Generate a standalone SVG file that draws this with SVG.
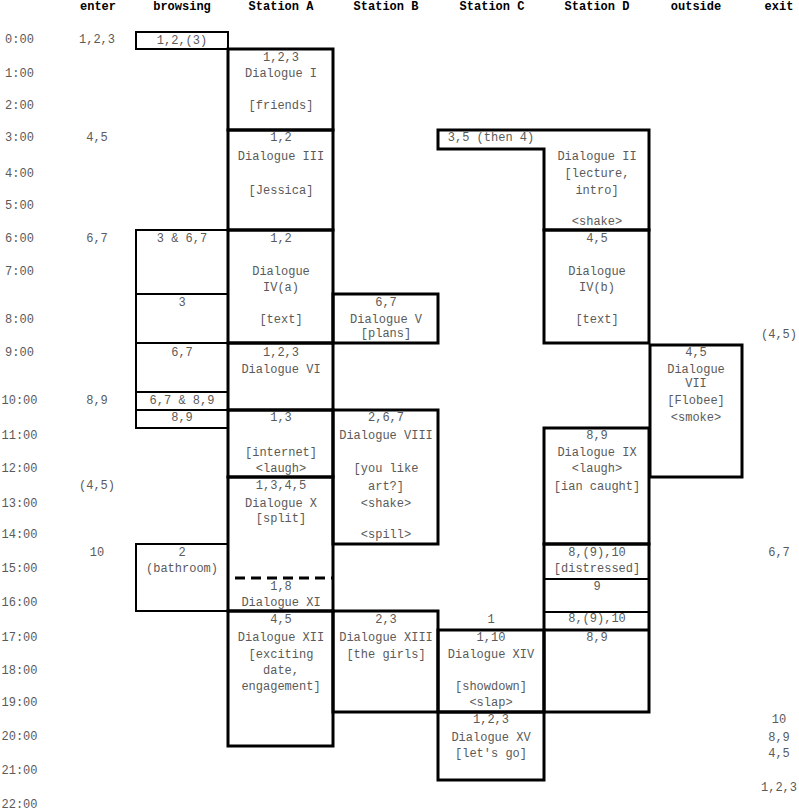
<svg xmlns="http://www.w3.org/2000/svg" width="799" height="812" viewBox="0 0 799 812">
<style>
text{font-family:"Liberation Mono","Courier New",monospace;font-size:12px;fill:#5a5a5a;text-anchor:middle}
.h{font-weight:bold;fill:#000}
.box{fill:none;stroke:#000;stroke-width:3}
.thin{fill:none;stroke:#000;stroke-width:2}
.dash{fill:none;stroke:#000;stroke-width:3;stroke-dasharray:10,6}
</style>
<rect width="799" height="812" fill="#fff"/>
<g id="headers">
<text class="h" x="98" y="10">enter</text>
<text class="h" x="182" y="10">browsing</text>
<text class="h" x="281" y="10">Station A</text>
<text class="h" x="386" y="10">Station B</text>
<text class="h" x="492" y="10">Station C</text>
<text class="h" x="597" y="10">Station D</text>
<text class="h" x="696" y="10">outside</text>
<text class="h" x="779" y="10">exit</text>
</g>
<g id="times">
<text x="19.5" y="43">0:00</text>
<text x="19.5" y="77">1:00</text>
<text x="19.5" y="109">2:00</text>
<text x="19.5" y="141">3:00</text>
<text x="19.5" y="177">4:00</text>
<text x="19.5" y="209">5:00</text>
<text x="19.5" y="242">6:00</text>
<text x="19.5" y="275">7:00</text>
<text x="19.5" y="323">8:00</text>
<text x="19.5" y="356">9:00</text>
<text x="19.5" y="404">10:00</text>
<text x="19.5" y="439">11:00</text>
<text x="19.5" y="472">12:00</text>
<text x="19.5" y="507">13:00</text>
<text x="19.5" y="538">14:00</text>
<text x="19.5" y="572">15:00</text>
<text x="19.5" y="606">16:00</text>
<text x="19.5" y="641">17:00</text>
<text x="19.5" y="674">18:00</text>
<text x="19.5" y="706">19:00</text>
<text x="19.5" y="740">20:00</text>
<text x="19.5" y="774">21:00</text>
<text x="19.5" y="808">22:00</text>
</g>
<g id="enter">
<text x="97" y="43">1,2,3</text>
<text x="97" y="141">4,5</text>
<text x="97" y="242">6,7</text>
<text x="97" y="404">8,9</text>
<text x="97" y="489">(4,5)</text>
<text x="97" y="556">10</text>
</g>
<g id="exit">
<text x="779" y="338">(4,5)</text>
<text x="779" y="556">6,7</text>
<text x="779" y="723">10</text>
<text x="779" y="741">8,9</text>
<text x="779" y="757">4,5</text>
<text x="779" y="791">1,2,3</text>
</g>
<g id="browse0"><rect class="thin" x="136" y="32" width="92" height="17"/><text x="182" y="44">1,2,(3)</text></g>
<g id="browse1"><rect class="thin" x="136" y="230" width="92" height="64"/><text x="182" y="242">3 &amp; 6,7</text></g>
<g id="browse2"><rect class="thin" x="136" y="294" width="92" height="49"/><text x="182" y="306">3</text></g>
<g id="browse3"><rect class="thin" x="136" y="343" width="92" height="49"/><text x="182" y="356">6,7</text></g>
<g id="browse4"><rect class="thin" x="136" y="392" width="92" height="18"/><text x="182" y="404">6,7 &amp; 8,9</text></g>
<g id="browse5"><rect class="thin" x="136" y="410" width="92" height="18"/><text x="182" y="421">8,9</text></g>
<g id="browse6"><rect class="thin" x="136" y="544" width="92" height="67"/><text x="182" y="556">2</text><text x="182" y="572">(bathroom)</text></g>
<g id="dlg1"><rect class="box" x="228" y="49" width="105" height="81"/><text x="281" y="61">1,2,3</text><text x="281" y="77">Dialogue I</text><text x="281" y="109">[friends]</text></g>
<g id="dlg3"><rect class="box" x="228" y="130" width="105" height="100"/><text x="281" y="141">1,2</text><text x="281" y="160">Dialogue III</text><text x="281" y="194">[Jessica]</text></g>
<g id="dlg4a"><rect class="box" x="228" y="230" width="105" height="113"/><text x="281" y="242">1,2</text><text x="281" y="275">Dialogue</text><text x="281" y="291">IV(a)</text><text x="281" y="323">[text]</text></g>
<g id="dlg6"><rect class="box" x="228" y="343" width="105" height="67"/><text x="281" y="356">1,2,3</text><text x="281" y="373">Dialogue VI</text></g>
<g id="stA_internet"><rect class="box" x="228" y="410" width="105" height="67"/><text x="281" y="421">1,3</text><text x="281" y="456">[internet]</text><text x="281" y="472">&lt;laugh&gt;</text></g>
<g id="dlg10_11"><rect class="box" x="228" y="477" width="105" height="134"/><text x="281" y="489">1,3,4,5</text><text x="281" y="507">Dialogue X</text><text x="281" y="522">[split]</text><line class="dash" x1="235" y1="578" x2="333" y2="578"/><text x="281" y="590">1,8</text><text x="281" y="606">Dialogue XI</text></g>
<g id="dlg12"><rect class="box" x="228" y="611" width="105" height="135"/><text x="281" y="623">4,5</text><text x="281" y="641">Dialogue XII</text><text x="281" y="658">[exciting</text><text x="281" y="674">date,</text><text x="281" y="690">engagement]</text></g>
<g id="dlg5"><rect class="box" x="333" y="294" width="105" height="49"/><text x="386" y="306">6,7</text><text x="386" y="323">Dialogue V</text><text x="386" y="337">[plans]</text></g>
<g id="dlg8"><rect class="box" x="333" y="410" width="105" height="134"/><text x="386" y="421">2,6,7</text><text x="386" y="439">Dialogue VIII</text><text x="386" y="472">[you like</text><text x="386" y="490">art?]</text><text x="386" y="507">&lt;shake&gt;</text><text x="386" y="538">&lt;spill&gt;</text></g>
<g id="dlg13"><rect class="box" x="333" y="611" width="105" height="101"/><text x="386" y="623">2,3</text><text x="386" y="641">Dialogue XIII</text><text x="386" y="658">[the girls]</text></g>
<g id="dlg2"><polygon class="box" points="438,130 649,130 649,230 544,230 544,149 438,149"/><text x="491" y="141">3,5 (then 4)</text><text x="597" y="160">Dialogue II</text><text x="597" y="177">[lecture,</text><text x="597" y="194">intro]</text><text x="597" y="225">&lt;shake&gt;</text></g>
<g id="dlg4b"><rect class="box" x="544" y="230" width="105" height="113"/><text x="597" y="242">4,5</text><text x="597" y="275">Dialogue</text><text x="597" y="291">IV(b)</text><text x="597" y="323">[text]</text></g>
<g id="dlg7"><rect class="box" x="650" y="345" width="92" height="132"/><text x="696" y="356">4,5</text><text x="696" y="373">Dialogue</text><text x="696" y="387">VII</text><text x="696" y="404">[Flobee]</text><text x="696" y="421">&lt;smoke&gt;</text></g>
<g id="dlg9"><rect class="box" x="544" y="428" width="105" height="116"/><text x="597" y="439">8,9</text><text x="597" y="456">Dialogue IX</text><text x="597" y="472">&lt;laugh&gt;</text><text x="597" y="490">[ian caught]</text></g>
<g id="stD_column"><rect class="box" x="544" y="544" width="105" height="168"/><line class="thin" x1="544" y1="579" x2="649" y2="579"/><line class="thin" x1="544" y1="612" x2="649" y2="612"/><line class="box" x1="544" y1="630" x2="649" y2="630"/></g>
<g id="stD_distressed"><text x="597" y="556">8,(9),10</text><text x="597" y="572">[distressed]</text></g>
<g id="stD_9"><text x="597" y="590">9</text></g>
<g id="stD_8910"><text x="597" y="622">8,(9),10</text></g>
<g id="stD_89"><text x="597" y="641">8,9</text></g>
<g id="stC_1"><text x="491" y="623">1</text></g>
<g id="dlg14"><rect class="box" x="438" y="630" width="106" height="82"/><text x="491" y="641">1,10</text><text x="491" y="658">Dialogue XIV</text><text x="491" y="690">[showdown]</text><text x="491" y="706">&lt;slap&gt;</text></g>
<g id="dlg15"><rect class="box" x="438" y="712" width="106" height="68"/><text x="491" y="723">1,2,3</text><text x="491" y="741">Dialogue XV</text><text x="491" y="757">[let's go]</text></g>
<g id="connectors"></g>
</svg>
